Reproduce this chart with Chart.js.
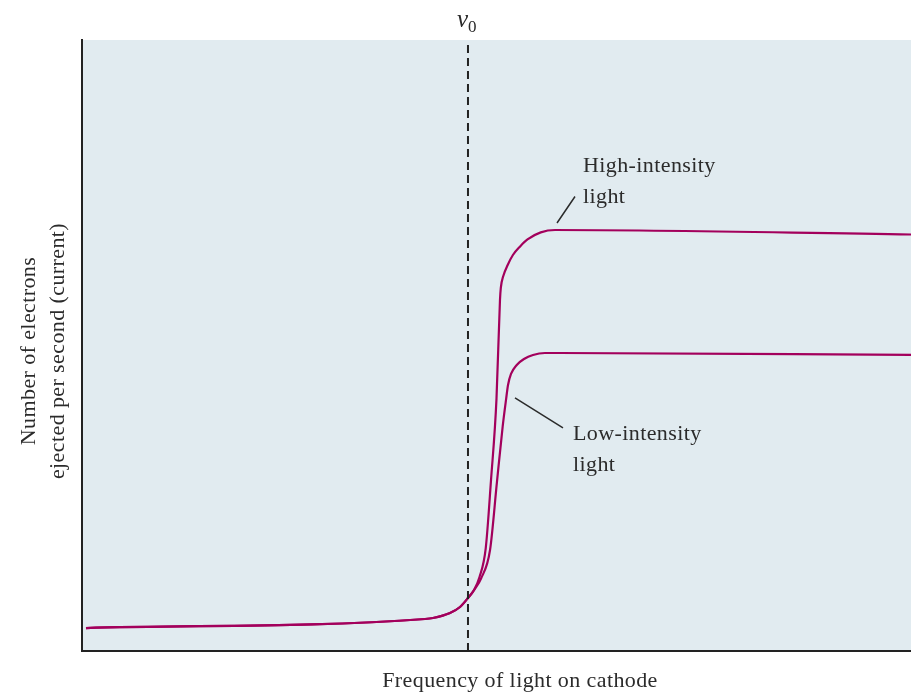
<!DOCTYPE html>
<html>
<head>
<meta charset="utf-8">
<script src="https://cdn.jsdelivr.net/npm/chart.js@4/dist/chart.umd.min.js"></script>
<style>
  html, body { margin: 0; padding: 0; background: #ffffff; }
  #c { display: block; }
</style>
</head>
<body>
<canvas id="c" width="911" height="692"></canvas>
<script>
// ---- data (frequency in arbitrary units, current in arbitrary units) ----
const highFreq    = [0.48, 41.38, 42.34, 44.39, 45.60, 46.56, 47.29, 47.95, 48.70, 49.34, 50.00, 50.42, 50.52, 50.82, 51.35, 51.98, 52.85, 53.74, 55.34, 57.06, 100];
const highCurrent = [3.76, 5.24, 5.40, 6.22, 7.20, 8.67, 9.98, 12.10, 16.80, 28.00, 41.30, 57.45, 59.44, 61.37, 63.18, 64.81, 66.22, 67.36, 68.51, 68.90, 68.17];
const lowFreq     = [0.48, 41.38, 42.34, 44.39, 45.60, 46.56, 47.29, 48.15, 49.22, 50.05, 50.75, 51.16, 51.39, 51.75, 52.44, 53.32, 54.40, 55.85, 57.66, 100];
const lowCurrent  = [3.76, 5.24, 5.40, 6.22, 7.20, 8.67, 9.98, 11.90, 16.53, 27.60, 36.80, 41.24, 43.54, 45.34, 46.81, 47.79, 48.45, 48.77, 48.77, 48.45];
const thresholdFreq = 46.56;   // ν0
const axisMin = 0, axisMax = 100;

const seriesLabels = ['High-intensity light', 'Low-intensity light'];
const xTitle = 'Frequency of light on cathode';
const yTitleLines = ['Number of electrons', 'ejected per second (current)'];

const toPts = (xs, ys) => xs.map((x, i) => ({ x: x, y: ys[i] }));

const CURVE = '#a3005c';
const INK = '#2b2b2b';
const FONT = '"Liberation Serif", "DejaVu Serif", serif';

function setFont(ctx, f, spacing) {
  ctx.font = f;
  if ('letterSpacing' in ctx) ctx.letterSpacing = spacing || '0px';
}

const decor = {
  id: 'decor',
  beforeDraw(chart) {
    const { ctx, chartArea: a } = chart;
    ctx.save();
    ctx.fillStyle = '#e1ebf0';
    ctx.fillRect(a.left, a.top, a.right - a.left, a.bottom - a.top);
    ctx.restore();
  },
  afterDraw(chart) {
    const { ctx, chartArea: a, scales } = chart;
    const X = v => scales.x.getPixelForValue(v);
    const Y = v => scales.y.getPixelForValue(v);
    ctx.save();
    ctx.fillStyle = INK;
    ctx.strokeStyle = INK;
    ctx.textBaseline = 'alphabetic';
    // nu_0 label
    const nx = X(thresholdFreq);
    setFont(ctx, 'italic 25px ' + FONT);
    ctx.textAlign = 'right';
    ctx.fillText('\u03bd', nx, 27);
    setFont(ctx, '17px ' + FONT);
    ctx.textAlign = 'left';
    ctx.fillText('0', nx, 32);

    // annotation labels
    setFont(ctx, '22px ' + FONT, '0.4px');
    ctx.textAlign = 'left';
    ctx.fillText('High-intensity', X(60.43), Y(78.40));
    ctx.fillText('light', X(60.43), Y(73.32));
    ctx.fillText('Low-intensity', X(59.23), Y(34.53));
    ctx.fillText('light', X(59.23), Y(29.46));

    // leader lines
    ctx.lineWidth = 1.5;
    ctx.beginPath();
    ctx.moveTo(X(57.30), Y(70.05)); ctx.lineTo(X(59.47), Y(74.39));
    ctx.moveTo(X(52.23), Y(41.41)); ctx.lineTo(X(58.02), Y(36.50));
    ctx.stroke();

    // axis titles
    setFont(ctx, '22px ' + FONT, '0.4px');
    ctx.textAlign = 'center';
    ctx.fillText(xTitle, 520, 687);
    ctx.save();
    ctx.translate(0, 351);
    ctx.rotate(-Math.PI / 2);
    ctx.fillText(yTitleLines[0], 0, 35);
    ctx.fillText(yTitleLines[1], 0, 64);
    ctx.restore();
    ctx.restore();
  }
};

new Chart(document.getElementById('c'), {
  type: 'line',
  data: {
    datasets: [
      {
        label: 'threshold',
        data: [{ x: thresholdFreq, y: axisMin }, { x: thresholdFreq, y: axisMax }],
        borderColor: '#222222',
        borderWidth: 2,
        borderDash: [8, 5],
        pointRadius: 0,
        tension: 0
      },
      {
        label: seriesLabels[0],
        data: toPts(highFreq, highCurrent),
        borderColor: CURVE,
        borderWidth: 2.2,
        pointRadius: 0,
        cubicInterpolationMode: 'monotone'
      },
      {
        label: seriesLabels[1],
        data: toPts(lowFreq, lowCurrent),
        borderColor: CURVE,
        borderWidth: 2.2,
        pointRadius: 0,
        cubicInterpolationMode: 'monotone'
      }
    ]
  },
  options: {
    responsive: false,
    animation: false,
    devicePixelRatio: 1,
    layout: { padding: { left: 82, top: 40, right: 0, bottom: 41 } },
    plugins: { legend: { display: false }, tooltip: { enabled: false } },
    scales: {
      x: {
        type: 'linear', min: axisMin, max: axisMax,
        grid: { display: false, drawTicks: false },
        ticks: { display: false },
        border: { display: true, color: '#222222', width: 2 },
        afterFit(s) { s.height = 0; }
      },
      y: {
        type: 'linear', min: axisMin, max: axisMax,
        grid: { display: false, drawTicks: false },
        ticks: { display: false },
        border: { display: true, color: '#222222', width: 2 },
        afterFit(s) { s.width = 0; }
      }
    }
  },
  plugins: [decor]
});
</script>
</body>
</html>
